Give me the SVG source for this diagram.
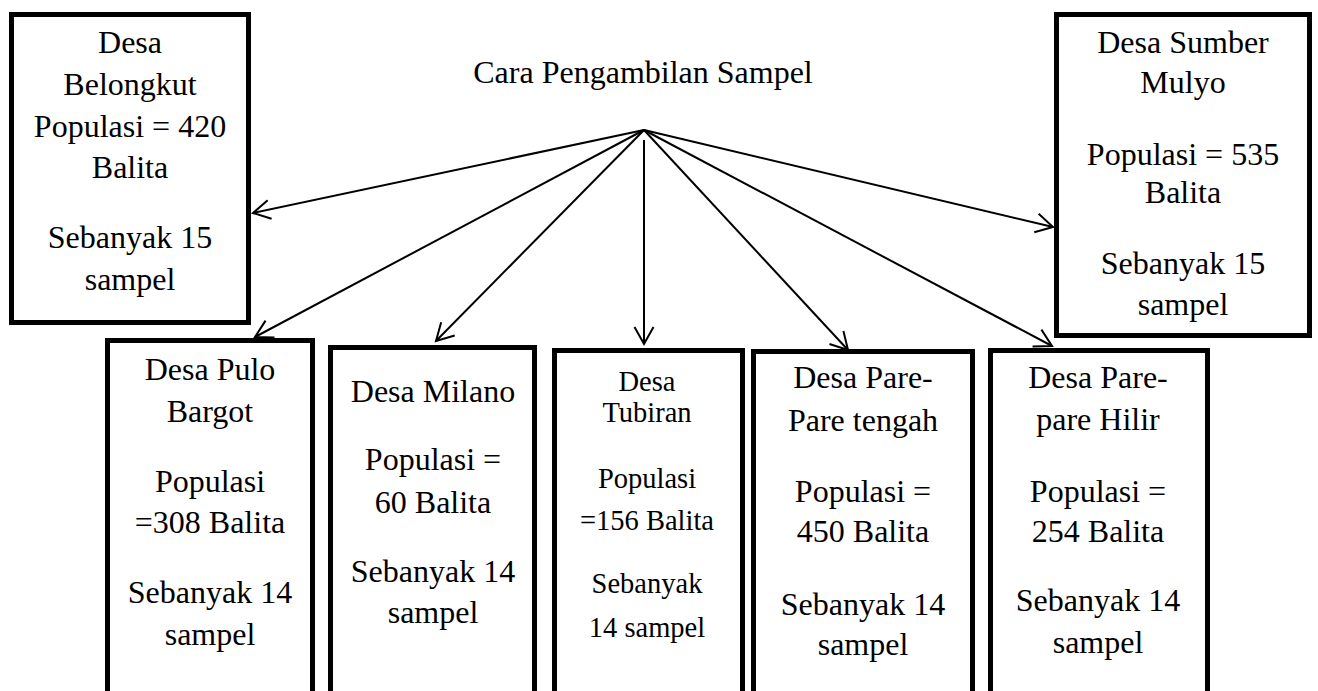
<svg xmlns="http://www.w3.org/2000/svg" width="1318" height="691" viewBox="0 0 1318 691">
<defs>
<style>
.box{fill:#fff;stroke:#000;stroke-width:5}
.t{font-family:"Liberation Serif","Times New Roman",serif;font-size:32px;fill:#000;text-anchor:middle}
.s{font-size:28.5px}
.c{stroke:#000;stroke-width:2;fill:none}
</style>
<marker id="ah" markerUnits="userSpaceOnUse" markerWidth="22" markerHeight="22" viewBox="0 0 22 22" refX="18" refY="11" orient="auto">
<path d="M1,1.5 L18,11 L1,20.5" fill="none" stroke="#000" stroke-width="2"/>
</marker>
</defs>
<rect width="1318" height="691" fill="#fff"/>
<text class="t" x="643" y="83">Cara Pengambilan Sampel</text>
<g id="belongkut">
<rect class="box" x="11.5" y="14.5" width="237" height="308"/>
<text class="t" x="130"><tspan x="130" y="53">Desa</tspan><tspan x="130" y="95">Belongkut</tspan><tspan x="130" y="137">Populasi = 420</tspan><tspan x="130" y="178">Balita</tspan><tspan x="130" y="248">Sebanyak 15</tspan><tspan x="130" y="290">sampel</tspan></text>
</g>
<g id="sumbermulyo">
<rect class="box" x="1056.5" y="14.5" width="253" height="321"/>
<text class="t" x="1183"><tspan x="1183" y="53">Desa Sumber</tspan><tspan x="1183" y="93">Mulyo</tspan><tspan x="1183" y="165">Populasi = 535</tspan><tspan x="1183" y="203">Balita</tspan><tspan x="1183" y="274">Sebanyak 15</tspan><tspan x="1183" y="315">sampel</tspan></text>
</g>
<g id="pulobargot">
<rect class="box" x="107.5" y="340.5" width="205" height="400"/>
<text class="t" x="210"><tspan x="210" y="380">Desa Pulo</tspan><tspan x="210" y="422">Bargot</tspan><tspan x="210" y="492">Populasi</tspan><tspan x="210" y="533">=308 Balita</tspan><tspan x="210" y="603">Sebanyak 14</tspan><tspan x="210" y="645">sampel</tspan></text>
</g>
<g id="milano">
<rect class="box" x="330.5" y="347.5" width="204" height="400"/>
<text class="t" x="433"><tspan x="433" y="402">Desa Milano</tspan><tspan x="433" y="470">Populasi =</tspan><tspan x="433" y="513">60 Balita</tspan><tspan x="433" y="582">Sebanyak 14</tspan><tspan x="433" y="623">sampel</tspan></text>
</g>
<g id="tubiran">
<rect class="box" x="554.5" y="350.5" width="188" height="400"/>
<text class="t s" x="647"><tspan x="647" y="391">Desa</tspan><tspan x="647" y="422">Tubiran</tspan><tspan x="647" y="488">Populasi</tspan><tspan x="647" y="530">=156 Balita</tspan><tspan x="647" y="593">Sebanyak</tspan><tspan x="647" y="637">14 sampel</tspan></text>
</g>
<g id="paretengah">
<rect class="box" x="753.5" y="351.5" width="219" height="400"/>
<text class="t" x="863"><tspan x="863" y="388">Desa Pare-</tspan><tspan x="863" y="431">Pare tengah</tspan><tspan x="863" y="502">Populasi =</tspan><tspan x="863" y="542">450 Balita</tspan><tspan x="863" y="615">Sebanyak 14</tspan><tspan x="863" y="655">sampel</tspan></text>
</g>
<g id="parehilir">
<rect class="box" x="990.5" y="350.5" width="217" height="400"/>
<text class="t" x="1098"><tspan x="1098" y="388">Desa Pare-</tspan><tspan x="1098" y="430">pare Hilir</tspan><tspan x="1098" y="502">Populasi =</tspan><tspan x="1098" y="542">254 Balita</tspan><tspan x="1098" y="611">Sebanyak 14</tspan><tspan x="1098" y="653">sampel</tspan></text>
</g>
<g id="connectors">
<line class="c" x1="644" y1="130" x2="253" y2="213" marker-end="url(#ah)"/>
<line class="c" x1="644" y1="130" x2="255" y2="337" marker-end="url(#ah)"/>
<line class="c" x1="644" y1="130" x2="436" y2="341" marker-end="url(#ah)"/>
<line class="c" x1="644" y1="140" x2="644" y2="344" marker-end="url(#ah)"/>
<line class="c" x1="644" y1="130" x2="848" y2="350" marker-end="url(#ah)"/>
<line class="c" x1="644" y1="130" x2="1052" y2="346" marker-end="url(#ah)"/>
<line class="c" x1="644" y1="130" x2="1053" y2="227" marker-end="url(#ah)"/>
</g>
</svg>
